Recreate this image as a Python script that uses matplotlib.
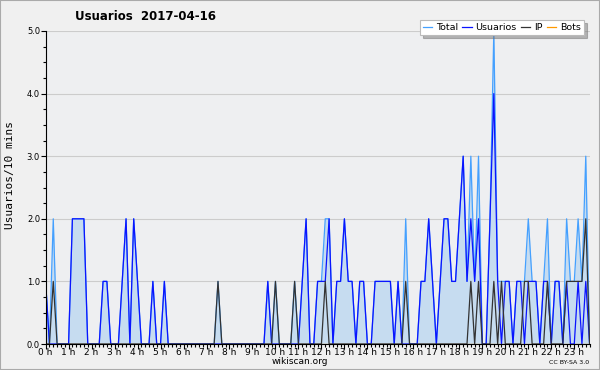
import matplotlib
matplotlib.use('Agg')
import matplotlib.pyplot as plt
from matplotlib.patches import Rectangle
from matplotlib.ticker import MultipleLocator

# valores cada 10 minutos (una fila = una hora)
total = [1, 0, 2, 0, 0, 0,
         0, 2, 2, 2, 2, 0,
         0, 0, 0, 1, 1, 0,
         0, 0, 1, 2, 0, 2,
         1, 0, 0, 0, 1, 0,
         0, 1, 0, 0, 0, 0,
         0, 0, 0, 0, 0, 0,
         0, 0, 0, 1, 0, 0,
         0, 0, 0, 0, 0, 0,
         0, 0, 0, 0, 1, 0,
         1, 0, 0, 0, 0, 1,
         0, 1, 2, 0, 0, 1,
         1, 2, 2, 0, 1, 1,
         2, 1, 1, 0, 1, 1,
         0, 0, 1, 1, 1, 1,
         1, 0, 1, 0, 2, 0,
         0, 0, 1, 1, 2, 1,
         0, 1, 2, 2, 1, 1,
         2, 3, 1, 3, 1, 3,
         0, 0, 2, 5, 1, 1,
         1, 1, 0, 1, 1, 1,
         2, 1, 1, 0, 1, 2,
         0, 1, 1, 0, 2, 1,
         1, 2, 1, 3, 0]
usuarios = [1, 0, 0, 0, 0, 0,
            0, 2, 2, 2, 2, 0,
            0, 0, 0, 1, 1, 0,
            0, 0, 1, 2, 0, 2,
            1, 0, 0, 0, 1, 0,
            0, 1, 0, 0, 0, 0,
            0, 0, 0, 0, 0, 0,
            0, 0, 0, 0, 0, 0,
            0, 0, 0, 0, 0, 0,
            0, 0, 0, 0, 1, 0,
            0, 0, 0, 0, 0, 0,
            0, 1, 2, 0, 0, 1,
            1, 1, 2, 0, 1, 1,
            2, 1, 1, 0, 1, 1,
            0, 0, 1, 1, 1, 1,
            1, 0, 1, 0, 0, 0,
            0, 0, 1, 1, 2, 1,
            0, 1, 2, 2, 1, 1,
            2, 3, 1, 2, 1, 2,
            0, 0, 2, 4, 1, 0,
            1, 1, 0, 1, 1, 0,
            1, 1, 1, 0, 1, 1,
            0, 1, 1, 0, 1, 0,
            0, 1, 0, 1, 0]
ip = [0, 0, 1, 0, 0, 0,
      0, 0, 0, 0, 0, 0,
      0, 0, 0, 0, 0, 0,
      0, 0, 0, 0, 0, 0,
      0, 0, 0, 0, 0, 0,
      0, 0, 0, 0, 0, 0,
      0, 0, 0, 0, 0, 0,
      0, 0, 0, 1, 0, 0,
      0, 0, 0, 0, 0, 0,
      0, 0, 0, 0, 0, 0,
      1, 0, 0, 0, 0, 1,
      0, 0, 0, 0, 0, 0,
      0, 1, 0, 0, 0, 0,
      0, 0, 0, 0, 0, 0,
      0, 0, 0, 0, 0, 0,
      0, 0, 0, 0, 1, 0,
      0, 0, 0, 0, 0, 0,
      0, 0, 0, 0, 0, 0,
      0, 0, 0, 1, 0, 1,
      0, 0, 0, 1, 0, 1,
      0, 0, 0, 0, 0, 1,
      1, 0, 0, 0, 0, 1,
      0, 0, 0, 0, 1, 1,
      1, 1, 1, 2, 0]
bots = [0] * len(total)
horas = ['%d h' % h for h in range(24)]

x = list(range(len(total)))

fig = plt.figure(figsize=(6, 3.7), dpi=100, facecolor='#f0f0f0')
ax = fig.add_axes([45.6 / 600, 26 / 370, 544 / 600, 313 / 370])
ax.set_facecolor('#eeeff1')

ax.fill_between(x, total, 0, color='#c6dcf0', lw=0, zorder=1)
l_total, = ax.plot(x, total, color='#44a0ff', lw=0.9, zorder=2)
l_usu, = ax.plot(x, usuarios, color='#0a14ff', lw=0.9, zorder=2)
l_ip, = ax.plot(x, ip, color='#333333', lw=0.9, zorder=2)
l_bots, = ax.plot(x, bots, color='#ff9900', lw=0.9, zorder=1.5)

ax.set_xlim(0, len(total) - 1)
ax.set_ylim(0, 5)
ax.set_xticks(range(0, 144, 6))
ax.set_xticklabels(horas, fontsize=6.5)
ax.xaxis.set_minor_locator(MultipleLocator(1))
ax.set_yticks([0, 1, 2, 3, 4, 5])
ax.set_yticklabels(['%.1f' % v for v in range(6)], fontsize=6)
ax.yaxis.set_minor_locator(MultipleLocator(0.25))
ax.tick_params(axis='both', which='major', length=3.5, width=0.8, pad=0.5)
ax.tick_params(axis='both', which='minor', length=2.2, width=0.8)
ax.tick_params(axis='x', which='major', pad=-0.5)
ax.grid(axis='y', color='#cccccc', lw=0.8)
ax.set_axisbelow(True)
for s in ['top', 'right']:
    ax.spines[s].set_visible(False)
ax.set_ylabel('Usuarios/10 mins', fontsize=8, family='DejaVu Sans Mono')
ax.yaxis.set_label_coords(-0.056, 0.54)

fig.text(75 / 600, 1 - 17 / 370, 'Usuarios  2017-04-16', fontsize=8.5,
         fontweight='bold', va='center')

leg = ax.legend([l_total, l_usu, l_ip, l_bots], ['Total', 'Usuarios', 'IP', 'Bots'],
                ncol=4, fontsize=6.8, loc='upper right', bbox_to_anchor=(0.998, 1.05),
                frameon=True, fancybox=False, shadow={'color': '#777777'},
                handlelength=1.0, handletextpad=0.4, columnspacing=0.45,
                borderpad=0.3, framealpha=1)
leg.get_frame().set_edgecolor('#bbbbbb')
leg.get_frame().set_linewidth(0.8)

fig.text(300 / 600, 1 - 362 / 370, 'wikiscan.org', fontsize=6.5, ha='center', va='center')
fig.text(589 / 600, 1 - 363 / 370, 'CC BY-SA 3.0', fontsize=4.5, ha='right', va='center')
fig.patches.append(Rectangle((0, 0), 1, 1, transform=fig.transFigure, fill=False,
                             edgecolor='#aaaaaa', lw=1.5))

plt.savefig('out.png', dpi=100, facecolor=fig.get_facecolor())
